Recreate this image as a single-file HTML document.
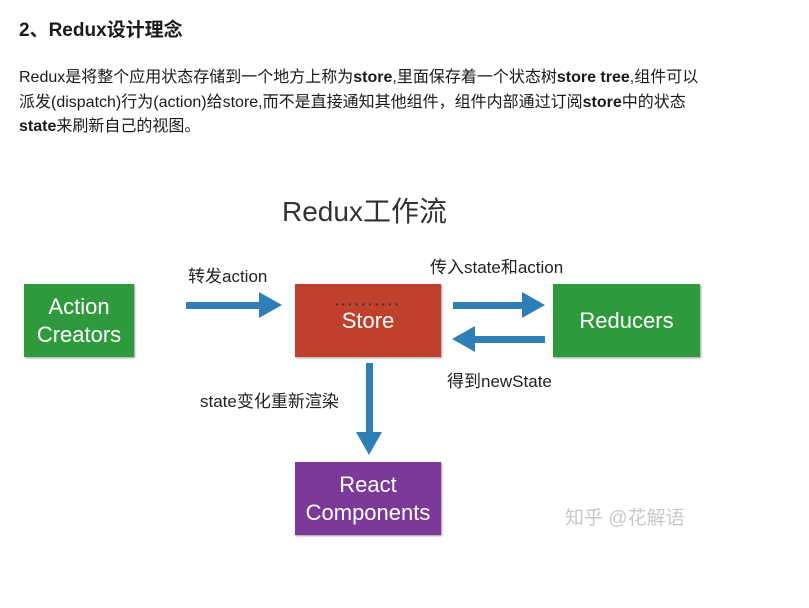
<!DOCTYPE html>
<html><head><meta charset="utf-8"><style>
body{margin:0;width:809px;height:608px;background:#fff;position:relative;overflow:hidden;font-family:"Liberation Sans","Noto Sans CJK SC",sans-serif;color:#1a1a1a}
.a{position:absolute}
h2{position:absolute;left:19px;top:15px;margin:0;font-size:19px;font-weight:bold}
p{position:absolute;left:19px;top:66px;margin:0;font-size:16px;line-height:24.5px;width:780px;white-space:nowrap}
.box{position:absolute;color:#fff;font-size:22px;text-align:center;display:flex;align-items:center;justify-content:center;line-height:28px;box-shadow:1px 1px 2px #999}
.g{background:#2f9a3d}
.lbl{position:absolute;font-size:17px;color:#222;white-space:nowrap}
</style></head><body>
<h2>2、Redux设计理念</h2>
<p>Redux是将整个应用状态存储到一个地方上称为<b>store</b>,里面保存着一个状态树<b>store tree</b>,组件可以<br>派发(dispatch)行为(action)给store,而不是直接通知其他组件，组件内部通过订阅<b>store</b>中的状态<br><b>state</b>来刷新自己的视图。</p>
<div class="lbl" style="left:282px;top:190px;font-size:28px;color:#333">Redux工作流</div>
<div class="box g" style="left:24px;top:284px;width:110px;height:73px">Action<br>Creators</div>
<div class="box" style="left:295px;top:284px;width:146px;height:73px;background:#c0402e"><span style="position:absolute;top:6px;left:0;width:100%;text-align:center;font-size:14px;letter-spacing:2px;color:#333;font-weight:bold">··········</span>Store</div>
<div class="box g" style="left:553px;top:284px;width:147px;height:73px">Reducers</div>
<div class="box" style="left:295px;top:462px;width:146px;height:73px;background:#7b3a98">React<br>Components</div>
<svg class="a" style="left:0;top:0" width="809" height="608">
<g fill="#2d7fb5">
<rect x="186" y="302" width="76" height="7"/><polygon points="259,292 282,305 259,318"/>
<rect x="453" y="302" width="72" height="7"/><polygon points="522,292 545,305 522,318"/>
<rect x="472" y="336" width="73" height="7"/><polygon points="475,326 452,339 475,352"/>
<rect x="366" y="363" width="7" height="72"/><polygon points="356,432 369,455 382,432"/>
</g></svg>
<div class="lbl" style="left:188px;top:262px">转发action</div>
<div class="lbl" style="left:430px;top:253px">传入state和action</div>
<div class="lbl" style="left:447px;top:367px">得到newState</div>
<div class="lbl" style="left:200px;top:387px">state变化重新渲染</div>
<div class="lbl" style="left:565px;top:503px;font-size:19px;color:#c8c8c8">知乎 @花解语</div>
</body></html>
